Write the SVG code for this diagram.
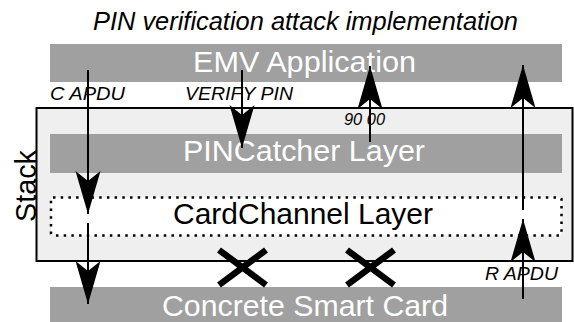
<svg xmlns="http://www.w3.org/2000/svg" width="574" height="322" viewBox="0 0 574 322">
<style>
  .bar { fill: #a0a0a0; }
  .big { font-family: "Liberation Sans", Arial, sans-serif; font-size: 30px; }
  .wt { fill: #ffffff; }
  .bk { fill: #000000; }
  .lbl { font-family: "Liberation Sans", Arial, sans-serif; font-size: 19px; font-style: italic; fill: #000; }
  .arr { stroke: #000; stroke-width: 2; fill: none; }
  .x { stroke: #000; stroke-width: 6.5; }
</style>
<defs>
  <marker id="head" markerUnits="userSpaceOnUse" viewBox="-45 -14 46 28" markerWidth="46" markerHeight="28" refX="0" refY="0" orient="auto" overflow="visible">
    <path d="M0,0 L-43,-12.5 L-33,0 L-43,12.5 Z" fill="#000"/>
  </marker>
</defs>
<rect width="574" height="322" fill="#fff"/>
<text class="lbl" x="93" y="30" style="font-size:25px" textLength="425" lengthAdjust="spacingAndGlyphs">PIN verification attack implementation</text>

<g id="stack">
  <rect x="36.5" y="108" width="536" height="153" fill="#efefef" stroke="#000" stroke-width="2"/>
  <text class="big bk" transform="translate(36,186) rotate(-90)" text-anchor="middle" textLength="72" lengthAdjust="spacingAndGlyphs" style="font-size:29px">Stack</text>
</g>
<g id="emv">
  <rect class="bar" x="50" y="44" width="512" height="38"/>
  <text class="big wt" x="193" y="72" textLength="223" lengthAdjust="spacingAndGlyphs">EMV Application</text>
</g>
<g id="pincatcher">
  <rect class="bar" x="50" y="134" width="512" height="39"/>
  <text class="big wt" x="183" y="161" textLength="242" lengthAdjust="spacingAndGlyphs">PINCatcher Layer</text>
</g>
<g id="cardchannel">
  <rect x="51" y="197.5" width="510.5" height="38" rx="2" fill="#fff" stroke="#000" stroke-width="2.5" stroke-dasharray="2.5 5.2"/>
  <text class="big bk" x="173" y="224" textLength="260" lengthAdjust="spacingAndGlyphs">CardChannel Layer</text>
</g>
<g id="card">
  <rect class="bar" x="50" y="287" width="512" height="35"/>
  <text class="big wt" x="162" y="316" textLength="286" lengthAdjust="spacingAndGlyphs">Concrete Smart Card</text>
</g>

<g id="connectors">
  <line class="arr" x1="88" y1="70" x2="88" y2="214" marker-end="url(#head)"/>
  <line class="arr" x1="88" y1="223" x2="88" y2="304" marker-end="url(#head)"/>
  <line class="arr" x1="242" y1="70" x2="242" y2="148" marker-end="url(#head)"/>
  <line class="arr" x1="370" y1="142" x2="370" y2="66" marker-end="url(#head)"/>
  <line class="arr" x1="523" y1="210" x2="523" y2="65" marker-end="url(#head)"/>
  <line class="arr" x1="523" y1="299" x2="523" y2="219" marker-end="url(#head)"/>
</g>

<g id="labels">
  <text class="lbl" x="50" y="100" textLength="75" lengthAdjust="spacingAndGlyphs">C APDU</text>
  <text class="lbl" x="185" y="100" textLength="108" lengthAdjust="spacingAndGlyphs">VERIFY PIN</text>
  <text class="lbl" x="344" y="125" style="font-size:17px" textLength="41" lengthAdjust="spacingAndGlyphs">90 00</text>
  <text class="lbl" x="485" y="280" textLength="73" lengthAdjust="spacingAndGlyphs">R APDU</text>
</g>

<g id="cross1">
  <line class="x" x1="219" y1="250" x2="266" y2="285"/>
  <line class="x" x1="219" y1="285" x2="266" y2="250"/>
</g>
<g id="cross2">
  <line class="x" x1="347" y1="250" x2="394" y2="285"/>
  <line class="x" x1="347" y1="285" x2="394" y2="250"/>
</g>
</svg>
